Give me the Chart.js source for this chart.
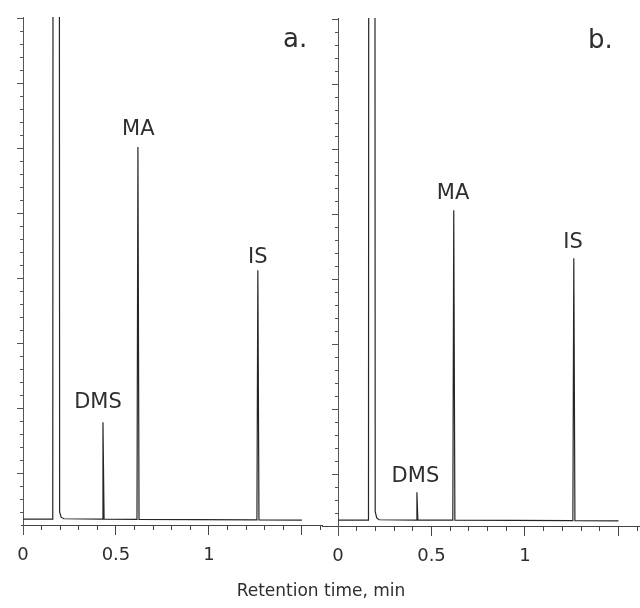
<!DOCTYPE html>
<html><head><meta charset="utf-8">
<script src="https://cdn.jsdelivr.net/npm/chart.js@4/dist/chart.umd.min.js"></script>
<style>
html,body{margin:0;padding:0;background:#fff;}
#wrap{position:relative;width:640px;height:608px;overflow:hidden;background:#fff;}
canvas{position:absolute;}
#ca{left:0;top:0;width:330px;height:608px;}
#cb{left:320px;top:1px;width:320px;height:608px;}
#xt{position:absolute;left:0;width:642px;top:580px;text-align:center;font-family:"DejaVu Sans";font-size:17px;line-height:20px;color:#2e2e2e;}
</style></head><body>
<div id="wrap">
<canvas id="ca" width="330" height="608"></canvas>
<canvas id="cb" width="320" height="608"></canvas>
<div id="xt">Retention time, min</div>
</div>
<script>
// ---- data (retention time in min, detector signal in arbitrary units) ----
const timeA   = [0, 0.160, 0.178, 0.197, 0.205, 0.220, 0.425, 0.430, 0.436, 0.613, 0.618, 0.624, 1.258, 1.263, 1.269, 1.50];
const signalA = [0.46, 0.46, 600, 1.0, 0.6, 0.48, 0.45, 7.9, 0.45, 0.44, 29.1, 0.44, 0.40, 19.6, 0.40, 0.38];
const timeB   = [0, 0.163, 0.180, 0.199, 0.207, 0.220, 0.418, 0.422, 0.427, 0.614, 0.619, 0.625, 1.256, 1.261, 1.267, 1.50];
const signalB = [0.46, 0.46, 600, 1.1, 0.62, 0.48, 0.46, 2.6, 0.46, 0.45, 24.3, 0.45, 0.42, 20.6, 0.42, 0.40];

const peakNames  = ['DMS', 'MA', 'IS'];
const peakLabelXA = [0.403, 0.620, 1.263];
const peakLabelYA = [9.0, 30.0, 20.2];
const peakLabelXB = [0.414, 0.615, 1.257];
const peakLabelYB = [3.4, 25.2, 21.4];
const panelNames = ['a.', 'b.'];

// ---- ticks ----
const xTicks = [0, 0.1, 0.2, 0.3, 0.4, 0.5, 0.6, 0.7, 0.8, 0.9, 1, 1.1, 1.2, 1.3, 1.4, 1.5, 1.6];
const xMajor = [0, 0.5, 1, 1.5];
const xLabelValues = [0, 0.5, 1];
const xLabelTexts  = ['0', '0.5', '1'];
const yTicks = [1,2,3,4,5,6,7,8,9,10,11,12,13,14,15,16,17,18,19,20,21,22,23,24,25,26,27,28,29,30,31,32,33,34,35,36,37,38,39];
const yMajor = [4, 9, 14, 19, 24, 29, 34, 39];

const near = (a, b) => Math.abs(a - b) < 1e-6;
const inList = (v, list) => list.some(w => near(v, w));

const labelPlugin = {
  id: 'peakLabels',
  afterDatasetsDraw(chart, args, opts) {
    const ctx = chart.ctx, xs = chart.scales.x, ys = chart.scales.y;
    ctx.save();
    ctx.fillStyle = '#2e2e2e';
    ctx.textBaseline = 'alphabetic';
    ctx.font = '21px "DejaVu Sans"';
    ctx.textAlign = 'center';
    opts.names.forEach((n, i) => {
      ctx.fillText(n, xs.getPixelForValue(opts.xs[i]), ys.getPixelForValue(opts.ys[i]));
    });
    ctx.font = '26px "DejaVu Sans"';
    ctx.textAlign = 'left';
    ctx.fillText(opts.letter, xs.getPixelForValue(opts.letterX), ys.getPixelForValue(opts.letterY));
    ctx.restore();
  }
};

function makeChart(id, times, signals, xmin, xmax, pad, lbl) {
  return new Chart(document.getElementById(id), {
    type: 'line',
    data: {
      datasets: [{
        data: times.map((t, i) => ({x: t, y: signals[i]})),
        borderColor: '#262626',
        borderWidth: 1.2,
        pointRadius: 0,
        tension: 0,
        fill: false
      }]
    },
    options: {
      responsive: false,
      animation: false,
      events: [],
      layout: {padding: pad},
      plugins: {legend: {display: false}, tooltip: {enabled: false}, peakLabels: lbl},
      scales: {
        x: {
          type: 'linear',
          position: {y: 0},
          min: xmin, max: xmax,
          afterBuildTicks: s => { s.ticks = xTicks.map(v => ({value: v})); },
          border: {display: true, color: '#444', width: 1},
          grid: {
            drawOnChartArea: false, drawTicks: true, tickLength: 9,
            tickColor: '#444', tickWidth: 1,
            tickBorderDash: ctx => (ctx.tick && inList(ctx.tick.value, xMajor)) ? [] : [4, 30]
          },
          ticks: {
            autoSkip: false, maxRotation: 0, padding: 0,
            color: '#2e2e2e', font: {family: 'DejaVu Sans', size: 18, lineHeight: 2.33},
            callback: v => { const k = xLabelValues.findIndex(w => near(w, v)); return k >= 0 ? xLabelTexts[k] : ''; }
          }
        },
        y: {
          type: 'linear',
          position: {x: 0},
          min: -0.615, max: 39.1,
          afterBuildTicks: s => { s.ticks = yTicks.map(v => ({value: v})); },
          border: {display: true, color: '#555', width: 1},
          grid: {
            drawOnChartArea: false, drawTicks: true, tickLength: 6,
            tickColor: '#555', tickWidth: 1,
            tickBorderDash: ctx => (ctx.tick && inList(ctx.tick.value, yMajor)) ? [] : [3, 30]
          },
          ticks: {display: false}
        }
      }
    },
    plugins: [labelPlugin]
  });
}

makeChart('ca', timeA, signalA, -0.0108, 1.608, {left: 21, right: 8, top: 17, bottom: 75},
  {names: peakNames, xs: peakLabelXA, ys: peakLabelYA, letter: panelNames[0], letterX: 1.398, letterY: 36.8});
makeChart('cb', timeB, signalB, -0.0856, 1.615, {left: 2, right: 0, top: 17, bottom: 75},
  {names: peakNames, xs: peakLabelXB, ys: peakLabelYB, letter: panelNames[1], letterX: 1.337, letterY: 36.8});
</script>
</body></html>
